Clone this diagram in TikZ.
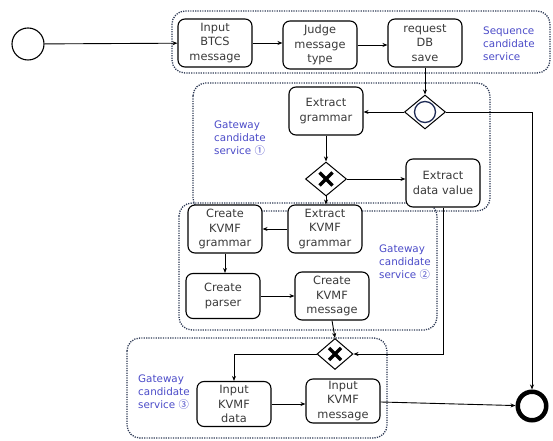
\documentclass[tikz,border=0pt]{standalone}
\usepackage{fontspec}
\setmainfont{DejaVu Sans}
\newfontfamily\cjk{Noto Sans CJK KR}
\usepackage{xcolor}
\usetikzlibrary{shapes.geometric, arrows.meta, positioning}
\definecolor{boxtext}{HTML}{3A3A3A}
\definecolor{grouplabel}{HTML}{4B4BC8}
\definecolor{groupline}{HTML}{2E3A55}
\definecolor{ringnavy}{HTML}{1E2B55}

\begin{document}
\begin{tikzpicture}[x=1bp, y=-1bp]
\tikzstyle{task} = [rectangle, draw, fill=white, line width=1.1bp, text=boxtext, text width=72bp, text centered, minimum width=74bp, minimum height=48bp, rounded corners=7bp, inner sep=1bp, font=\fontsize{11.4}{14.3}\selectfont]
\tikzstyle{gate} = [diamond, draw, fill=white, line width=1bp, minimum width=41bp, minimum height=34bp, inner sep=0pt]
\tikzstyle{group} = [draw=groupline, line width=1.3bp, dash pattern=on 1.2bp off 1.2bp, rounded corners=13bp]
\tikzstyle{grouplbl} = [text=grouplabel, align=left, anchor=west, inner sep=0pt, font=\fontsize{10.4}{13}\selectfont]
\tikzstyle{flow} = [line width=0.9bp, -{Stealth[length=5bp, width=4bp]}]
\tikzstyle{xmark} = [line width=3.4bp]

\useasboundingbox (0,0) rectangle (553,441);

% candidate service groups
\draw[group] (172,11) rectangle (550,73);
\draw[group] (193,83) rectangle (490,211);
\draw[group] (179,203) rectangle (437,330);
\draw[group] (127,338) rectangle (387,438);

\node (seqlbl) [grouplbl] at (483,44) {Sequence\\candidate\\service};
\node (gw1lbl) [grouplbl] at (214,138) {Gateway\\candidate\\service {\cjk ①}};
\node (gw2lbl) [grouplbl] at (379,262) {Gateway\\candidate\\service {\cjk ②}};
\node (gw3lbl) [grouplbl] at (138,392) {Gateway\\candidate\\service {\cjk ③}};

% events
\node (start) [circle, draw, line width=1.1bp, minimum size=32bp, inner sep=0pt] at (28,44) {};
\node (end) [circle, draw, line width=4.5bp, minimum size=28.5bp, inner sep=0pt] at (532,406) {};

% tasks
\node (btcs) [task] at (215,43) {Input\\BTCS\\message};
\node (judge) [task] at (320,45) {Judge\\message\\type};
\node (dbsave) [task] at (425,43) {request\\DB\\save};
\node (grammar) [task] at (326,111) {Extract\\grammar};
\node (dataval) [task] at (443,183) {Extract\\data value};
\node (ckgram) [task] at (225,229) {Create\\KVMF\\grammar};
\node (ekgram) [task] at (325,229) {Extract\\KVMF\\grammar};
\node (parser) [task, minimum height=45bp] at (223,296) {Create\\parser};
\node (ckmsg) [task] at (332,296) {Create\\KVMF\\message};
\node (ikdata) [task, minimum height=45bp] at (234,404) {Input\\KVMF\\data};
\node (ikmsg) [task, minimum height=44bp] at (343,401) {Input\\KVMF\\message};

% gateways
\node (evgate) [gate] at (425,112) {};
\node (evring) [circle, draw=ringnavy, line width=1.3bp, minimum size=21bp, inner sep=0pt] at (evgate) {};
\node (xor1) [gate] at (326,179) {};
\draw[xmark] ([shift={(-6.5,-6.5)}]xor1.center) -- ([shift={(6.5,6.5)}]xor1.center);
\draw[xmark] ([shift={(-6.5,6.5)}]xor1.center) -- ([shift={(6.5,-6.5)}]xor1.center);
\node (xor2) [gate, minimum width=36bp, minimum height=31bp] at (335,354) {};
\draw[xmark] ([shift={(-6,-6)}]xor2.center) -- ([shift={(6,6)}]xor2.center);
\draw[xmark] ([shift={(-6,6)}]xor2.center) -- ([shift={(6,-6)}]xor2.center);

% sequence flows
\draw [flow] (start) -- (btcs);
\draw [flow] (btcs) -- (judge.west |- btcs);
\draw [flow] (judge) -- (dbsave.west |- judge);
\draw [flow] (dbsave) -- (evgate);
\draw [flow] (evgate) -- (grammar.east |- evgate);
\draw [flow] (evgate.east) -| (end.north);
\draw [flow] (grammar) -- (xor1);
\draw [flow] (xor1.east) -- (xor1.east -| dataval.west);
\draw [flow] (xor1.south) -- (xor1.south |- ekgram.north);
\draw [flow] (ekgram) -- (ckgram);
\draw [flow] (ckgram.south) -- (ckgram.south |- parser.north);
\draw [flow] (parser) -- (ckmsg.west |- parser);
\draw [flow] (ckmsg.south) -- (xor2.north);
\draw [flow] (dataval.south) |- (xor2.east);
\draw [flow] (xor2.west) -| (ikdata.north);
\draw [flow] (ikdata) -- (ikmsg.west |- ikdata);
\draw [flow] (ikmsg) -- (end);

\end{tikzpicture}
\end{document}
